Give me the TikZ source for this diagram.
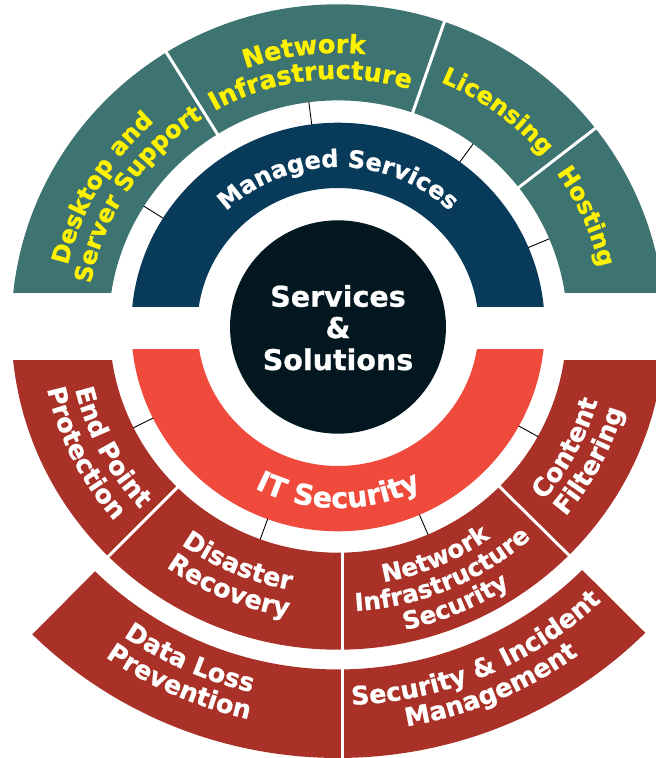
\documentclass[tikz,border=0pt]{standalone}
\usepackage{fontspec}
\setmainfont{DejaVu Sans}[BoldFeatures={FakeBold=0.8}]
\usetikzlibrary{decorations.text}
\definecolor{segTeal}{HTML}{3D7371}
\definecolor{segNavy}{HTML}{083A5A}
\definecolor{coreDark}{HTML}{021720}
\definecolor{segRed}{HTML}{F04A3D}
\definecolor{segDark}{HTML}{A93127}
\definecolor{labYel}{HTML}{FFF200}
\newcommand\fOut{\fontsize{25.5}{25.5}\selectfont\bfseries}
\newcommand\fOuts{\fontsize{24}{24}\selectfont\bfseries}
\newcommand\fNis{\fontsize{24.5}{24.5}\selectfont\bfseries}
\newcommand\fMan{\fontsize{24}{24}\selectfont\bfseries}
\newcommand\fIts{\fontsize{28.5}{28.5}\selectfont\bfseries}
\newcommand\fCore{\fontsize{28.5}{28.5}\selectfont\bfseries}
% clockwise arc text (letter tops outward): #1 centre angle, #2 baseline radius, #3 format, #4 text
\newcommand\cwText[4]{\path[decorate,decoration={text along path,text align=center,text={|#3|#4}}] ({#1+80}:#2) arc[start angle={#1+80},end angle={#1-80},radius=#2pt];}
% counter-clockwise arc text (letter tops towards centre)
\newcommand\ccwText[4]{\path[decorate,decoration={text along path,text align=center,text={|#3|#4}}] ({#1-80}:#2) arc[start angle={#1-80},end angle={#1+80},radius=#2pt];}
\begin{document}
\begin{tikzpicture}[x=1pt,y=1pt,
  divider/.style={white,line width=3pt},
  tick/.style={black,line width=0.9pt},
  coreTxt/.style={text=white,font=\fCore,inner sep=0pt,anchor=base}]
\useasboundingbox (-338,-431) rectangle (318,327);
\clip (-338,-431) rectangle (318,327);
\begin{scope}[xscale=1.012]
% centre disc
\fill[coreDark] (0,0) circle[radius=106.7pt];
% upper rings
\begin{scope}
  \clip (-400,21) rectangle (400,400);
  \fill[segNavy,even odd rule] (0,0) circle[radius=204.3pt] (0,0) circle[radius=139pt];
\end{scope}
\begin{scope}
  \clip (-400,34.3) rectangle (400,400);
  \fill[segTeal,even odd rule] (0,0) circle[radius=322.7pt] (0,0) circle[radius=226.6pt];
\end{scope}
% lower rings
\begin{scope}
  \clip (-400,-22.5) rectangle (400,-400);
  \fill[segRed,even odd rule] (0,0) circle[radius=204.3pt] (0,0) circle[radius=139pt];
\end{scope}
\begin{scope}
  \clip (-400,-33.7) rectangle (400,-400);
  \fill[segDark,even odd rule] (0,0) circle[radius=322.7pt] (0,0) circle[radius=225.7pt];
\end{scope}
% outer lower band
\fill[segDark] (225.5:431) arc[start angle=225.5,end angle=314.8,radius=431pt]
  -- (314.8:342.5) arc[start angle=314.8,end angle=225.5,radius=342.5pt] -- cycle;
% white dividers
\foreach \a in {121.7,71,38} \draw[divider] (\a:224) -- (\a:326);
\foreach \a in {225.3,315} \draw[divider] (\a:223) -- (\a:326);
\draw[divider] (4.6,-222) -- (4.6,-440);
% ticks
\foreach \a in {147.8,97.3,53.9,22.9} \draw[tick] (\a:204) -- (\a:226.8);
\foreach \a in {206.5,250.1,293.2,331} \draw[tick] (\a:204) -- (\a:226);
% centre text
\node[coreTxt] (coreA) at (0,20.3) {Services};
\node[coreTxt] (coreB) at (0,-11) {\&};
\node[coreTxt] (coreC) at (0,-43) {Solutions};
% upper texts
\cwText{90}{160}{\fMan\color{white}}{Managed Services}
\cwText{149.5}{274}{\fOuts\color{labYel}}{Desktop and}
\cwText{146.5}{248}{\fOuts\color{labYel}}{Server Support}
\cwText{97}{274}{\fOut\color{labYel}}{Network}
\cwText{96.5}{248}{\fOut\color{labYel}}{Infrastructure}
\cwText{53.5}{265}{\fOuts\color{labYel}}{Licensing}
\cwText{24}{265}{\fOuts\color{labYel}}{Hosting}
% lower texts
\ccwText{270}{181}{\fIts\color{white}}{IT Security}
\ccwText{208}{267}{\fOut\color{white}}{End Point}
\ccwText{206.5}{294}{\fOut\color{white}}{Protection}
\ccwText{247}{267}{\fOut\color{white}}{Disaster}
\ccwText{247.3}{294}{\fOut\color{white}}{Recovery}
\ccwText{293}{259}{\fNis\color{white}}{Network}
\ccwText{293}{284.5}{\fNis\color{white}}{Infrastructure}
\ccwText{293}{310}{\fNis\color{white}}{Security}
\ccwText{332}{267}{\fOut\color{white}}{Content}
\ccwText{332}{294}{\fOut\color{white}}{Filtering}
\ccwText{246}{375}{\fOut\color{white}}{Data Loss}
\ccwText{246}{402}{\fOut\color{white}}{Prevention}
\ccwText{293}{378}{\fOut\color{white}}{Security {\&} Incident}
\ccwText{293}{405}{\fOut\color{white}}{Management}
\end{scope}
\end{tikzpicture}
\end{document}
